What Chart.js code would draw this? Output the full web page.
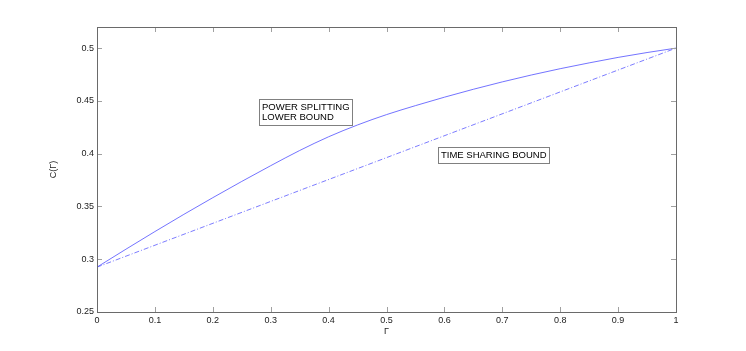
<!DOCTYPE html>
<html>
<head>
<meta charset="utf-8">
<script src="https://cdn.jsdelivr.net/npm/chart.js@4"></script>
<style>
html,body{margin:0;padding:0;background:#fff;}
#wrap{width:746px;height:351px;}
</style>
</head>
<body>
<div id="wrap"><canvas id="c" width="746" height="351"></canvas></div>
<script>
const gammaValues = [0,0.05,0.1,0.15,0.2,0.25,0.3,0.35,0.4,0.45,0.5,0.55,0.6,0.65,0.7,0.75,0.8,0.85,0.9,0.95,1];
const powerSplitting = [0.2925,0.3095,0.3262,0.3425,0.3583,0.3737,0.3886,0.4030,0.4160,0.4272,0.4370,0.4455,0.4535,0.4610,0.4680,0.4745,0.4805,0.4860,0.4912,0.4958,0.5000];
const timeSharingGamma = [0,1];
const timeSharing = [0.2925,0.5];
const xTickValues = [0,0.1,0.2,0.3,0.4,0.5,0.6,0.7,0.8,0.9,1];
const yTickValues = [0.25,0.3,0.35,0.4,0.45,0.5];
const annotations = [
  {lines:["POWER SPLITTING","LOWER BOUND"], x:0.279, y:0.452},
  {lines:["TIME SHARING BOUND"], x:0.589, y:0.406}
];

const FONT = "'Liberation Sans', Arial, Helvetica, sans-serif";

const framePlugin = {
  id:'frame',
  afterDatasetsDraw(chart){
    const {ctx, chartArea:a, scales:{x,y}} = chart;
    ctx.save();
    ctx.strokeStyle = '#a0a0a0';
    ctx.lineWidth = 1;
    ctx.beginPath();
    xTickValues.forEach(v=>{
      const px = Math.round(x.getPixelForValue(v))+0.5;
      ctx.moveTo(px,a.bottom); ctx.lineTo(px,a.bottom-5);
      ctx.moveTo(px,a.top); ctx.lineTo(px,a.top+5);
    });
    yTickValues.forEach(v=>{
      const py = Math.round(y.getPixelForValue(v))+0.5;
      ctx.moveTo(a.left,py); ctx.lineTo(a.left+5,py);
      ctx.moveTo(a.right,py); ctx.lineTo(a.right-5,py);
    });
    ctx.stroke();
    ctx.strokeStyle = '#6a6a6a';
    ctx.strokeRect(Math.round(a.left)+0.5, Math.round(a.top)+0.5, Math.round(a.right-a.left), Math.round(a.bottom-a.top));
    ctx.font = '9.5px ' + FONT;
    ctx.textBaseline = 'top';
    annotations.forEach(an=>{
      const px = x.getPixelForValue(an.x);
      const py = y.getPixelForValue(an.y);
      const lh = 10.5;
      let w = 0;
      an.lines.forEach(l=>{ w = Math.max(w, ctx.measureText(l).width); });
      const bw = Math.round(w + 5), bh = Math.round(an.lines.length*lh + 5);
      const bx = Math.round(px)+0.5, by = Math.round(py)+0.5;
      ctx.fillStyle = '#fff';
      ctx.fillRect(bx,by,bw,bh);
      ctx.strokeStyle = '#808080';
      ctx.strokeRect(bx,by,bw,bh);
      ctx.fillStyle = '#000';
      an.lines.forEach((l,i)=>{ ctx.fillText(l, bx+2.5, by+3+i*lh); });
    });
    ctx.restore();
  }
};

const fmt = v => String(Number(Number(v).toFixed(2)));

new Chart(document.getElementById('c'), {
  type:'scatter',
  data:{
    datasets:[
      {
        label:'Power splitting lower bound',
        data: gammaValues.map((g,i)=>({x:g, y:powerSplitting[i]})),
        showLine:true, borderColor:'rgba(80,80,255,0.8)', borderWidth:1,
        pointRadius:0, cubicInterpolationMode:'monotone', fill:false
      },
      {
        label:'Time sharing bound',
        data: timeSharingGamma.map((g,i)=>({x:g, y:timeSharing[i]})),
        showLine:true, borderColor:'rgba(80,80,255,0.75)', borderWidth:1,
        borderDash:[5,2,1,2], pointRadius:0, fill:false
      }
    ]
  },
  options:{
    responsive:false, animation:false,
    layout:{padding:{top:27,right:70,left:0,bottom:0}},
    plugins:{legend:{display:false}, tooltip:{enabled:false}},
    scales:{
      x:{
        type:'linear', min:0, max:1,
        grid:{display:false, drawTicks:false}, border:{display:false},
        afterBuildTicks(s){ s.ticks = xTickValues.map(v=>({value:v})); },
        ticks:{callback:fmt, padding:3, color:'#222', font:{family:FONT,size:9}, maxRotation:0, autoSkip:false},
        title:{display:true, text:'Γ', color:'#222', font:{family:FONT,size:9}, padding:{top:0,bottom:14}},
        afterFit(s){ s.height = 39; }
      },
      y:{
        type:'linear', min:0.25, max:0.52,
        grid:{display:false, drawTicks:false}, border:{display:false},
        afterBuildTicks(s){ s.ticks = yTickValues.map(v=>({value:v})); },
        ticks:{callback:fmt, padding:3, color:'#222', font:{family:FONT,size:9}, autoSkip:false},
        title:{display:true, text:'C(Γ)', color:'#222', font:{family:FONT,size:9}, padding:{top:48,bottom:0}},
        afterFit(s){ s.width = 97; }
      }
    }
  },
  plugins:[framePlugin]
});
</script>
</body>
</html>
